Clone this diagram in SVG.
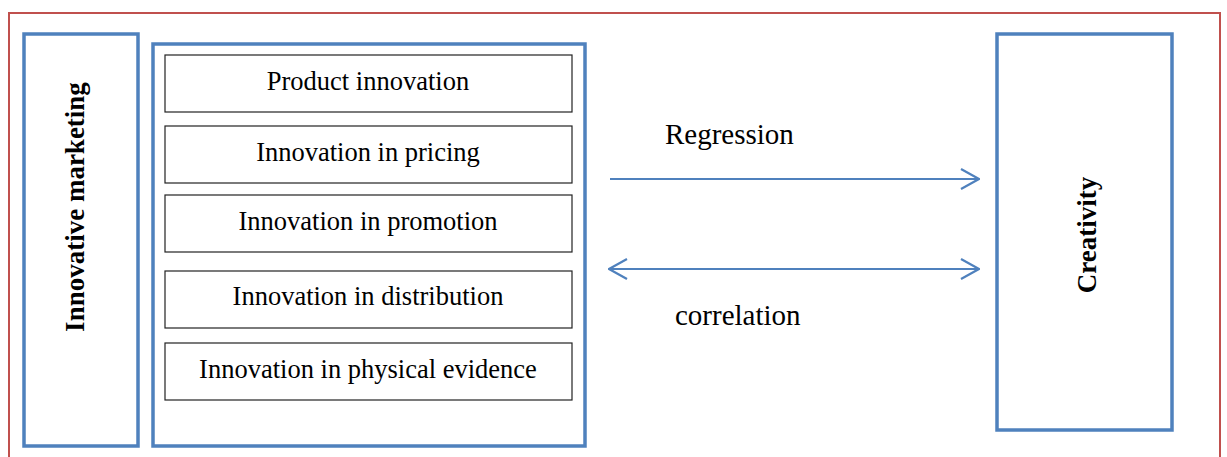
<svg xmlns="http://www.w3.org/2000/svg" width="1227" height="457" viewBox="0 0 1227 457">
  <style>
    .frame { fill: none; stroke: #C0504D; stroke-width: 2; }
    .blue { fill: #FFFFFF; stroke: #4F81BD; stroke-width: 3.5; }
    .item { fill: #FFFFFF; stroke: #222222; stroke-width: 1.2; }
    .itemtxt { font-family: "Liberation Serif", "Times New Roman", serif; font-size: 26.5px; fill: #000000; text-anchor: middle; }
    .vert { font-family: "Liberation Serif", "Times New Roman", serif; font-size: 27px; font-weight: bold; fill: #000000; text-anchor: middle; }
    .lbl { font-family: "Liberation Serif", "Times New Roman", serif; font-size: 29px; fill: #000000; }
    .link { fill: none; stroke: #4F81BD; stroke-width: 2.2; }
  </style>
  <defs>
    <marker id="chev" viewBox="0 0 20 22" refX="19" refY="11" markerWidth="20" markerHeight="22" markerUnits="userSpaceOnUse" orient="auto-start-reverse">
      <path d="M1,1 L19,11 L1,21" fill="none" stroke="#4F81BD" stroke-width="2.2"/>
    </marker>
  </defs>

  <rect width="1227" height="457" fill="#FFFFFF"/>

  <!-- outer border (open at the bottom edge) -->
  <path class="frame" d="M9,460 L9,13 L1220,13 L1220,460"/>

  <!-- independent variable -->
  <g id="innovative-marketing">
    <rect class="blue" x="24" y="34" width="114" height="412"/>
    <text class="vert" transform="translate(84,207) rotate(-90)">Innovative marketing</text>
  </g>

  <!-- dimensions of innovative marketing -->
  <g id="dimensions">
    <rect class="blue" x="153" y="44" width="432" height="402"/>
    <g id="product-innovation">
      <rect class="item" x="165" y="55" width="407" height="57"/>
      <text class="itemtxt" x="368" y="90">Product innovation</text>
    </g>
    <g id="innovation-pricing">
      <rect class="item" x="165" y="126" width="407" height="57"/>
      <text class="itemtxt" x="368" y="161">Innovation in pricing</text>
    </g>
    <g id="innovation-promotion">
      <rect class="item" x="165" y="195" width="407" height="57"/>
      <text class="itemtxt" x="368" y="230">Innovation in promotion</text>
    </g>
    <g id="innovation-distribution">
      <rect class="item" x="165" y="271" width="407" height="57"/>
      <text class="itemtxt" x="368" y="305">Innovation in distribution</text>
    </g>
    <g id="innovation-physical-evidence">
      <rect class="item" x="165" y="343" width="407" height="57"/>
      <text class="itemtxt" x="368" y="378">Innovation in physical evidence</text>
    </g>
  </g>

  <!-- dependent variable -->
  <g id="creativity">
    <rect class="blue" x="997" y="34" width="175" height="396"/>
    <text class="vert" transform="translate(1096,235) rotate(-90)">Creativity</text>
  </g>

  <!-- relations -->
  <g id="connectors">
    <line class="link" x1="610" y1="179" x2="979" y2="179" marker-end="url(#chev)"/>
    <text class="lbl" x="665" y="144">Regression</text>
    <line class="link" x1="609" y1="269" x2="979" y2="269" marker-start="url(#chev)" marker-end="url(#chev)"/>
    <text class="lbl" x="675" y="325">correlation</text>
  </g>
</svg>
